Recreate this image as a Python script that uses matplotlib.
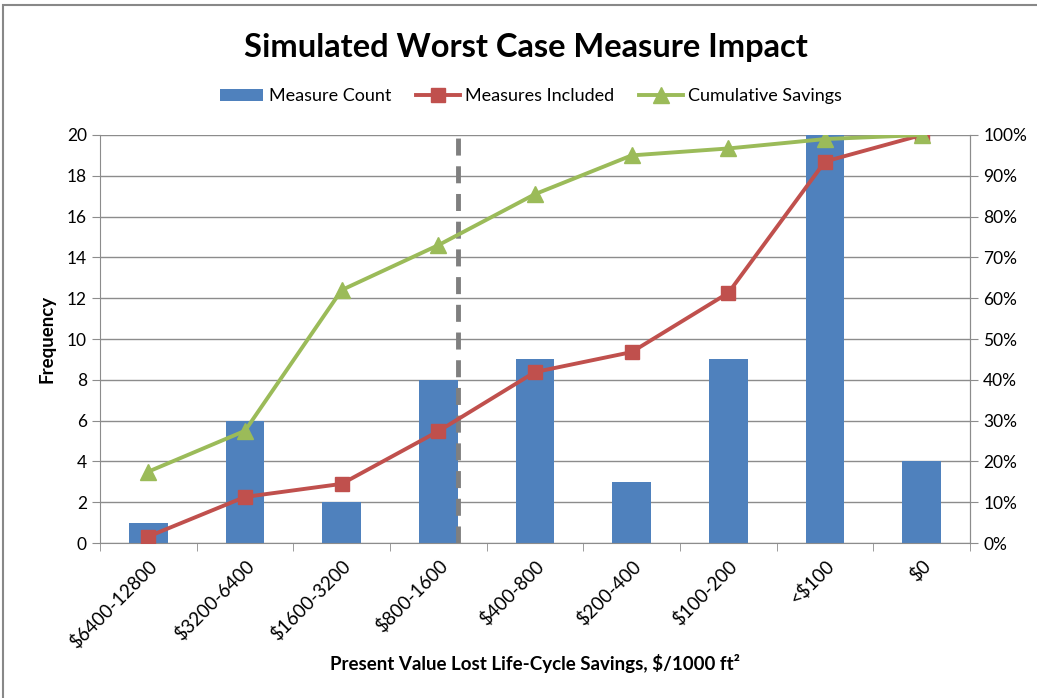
import matplotlib.pyplot as plt
import numpy as np
from matplotlib.patches import Rectangle
from matplotlib.ticker import PercentFormatter

# ── Data ─────────────────────────────────────────────────────────────────────
categories = ["$6400-12800", "$3200-6400", "$1600-3200", "$800-1600",
              "$400-800", "$200-400", "$100-200", "<$100", "$0"]
measure_count = [1, 6, 2, 8, 9, 3, 9, 20, 4]
measures_included = [1.6, 11.3, 14.5, 27.4, 41.9, 46.8, 61.3, 93.5, 100.0]
cumulative_savings = [17.5, 27.5, 62.0, 73.0, 85.5, 95.0, 96.7, 99.0, 100.0]
cutoff_pos = 3.2

BLUE = "#4F81BD"
RED = "#C0504D"
GREEN = "#9BBB59"
GRID = "#8c8c8c"

plt.rcParams["font.family"] = ["Lato", "DejaVu Sans"]
plt.rcParams["text.parse_math"] = False

fig = plt.figure(figsize=(10.37, 6.98), dpi=100)
fig.patches.append(Rectangle((3 / 1037, -0.1), 1.2, 1.1 - 5 / 698,
                             transform=fig.transFigure, fill=False,
                             edgecolor="#888888", lw=1.5))

ax = fig.add_axes([0.0964, 0.222, 0.839, 0.5846])
x = np.arange(len(categories))

ax.bar(x, measure_count, width=0.4, color=BLUE, label="Measure Count", zorder=2)
ax.set_xlim(-0.5, len(categories) - 0.5)
ax.set_ylim(0, 20)
ax.set_yticks(range(0, 21, 2))
ax.yaxis.grid(True, color=GRID, lw=1)
ax.set_axisbelow(True)
ax.axvline(cutoff_pos, color="#7f7f7f", lw=3.5, ls=(0, (3.5, 2.2)), zorder=3)

ax.set_xticks(x)
ax.set_xticklabels(categories, rotation=45, ha="right", rotation_mode="anchor",
                   fontsize=13.5)
ax.tick_params(axis="x", which="major", length=0, pad=10)
ax.set_xticks(np.arange(-0.5, len(categories), 1), minor=True)
ax.tick_params(axis="x", which="minor", length=6, color=GRID)
ax.tick_params(axis="y", length=6, color=GRID, labelsize=12.5)

ax.spines["top"].set_visible(False)
for s in ["left", "bottom", "right"]:
    ax.spines[s].set_color(GRID)

ax.set_ylabel("Frequency", fontsize=13.5, fontweight="bold", labelpad=8)
ax.set_xlabel("Present Value Lost Life-Cycle Savings, $/1000 ft²",
              fontsize=13.5, fontweight="bold", labelpad=2)

ax2 = ax.twinx()
ax2.plot(x, measures_included, color=RED, lw=2.8, marker="s", ms=10,
         label="Measures Included", zorder=4)
ax2.plot(x, cumulative_savings, color=GREEN, lw=2.8, marker="^", ms=11,
         label="Cumulative Savings", zorder=5)
ax2.set_ylim(0, 100)
ax2.set_yticks(range(0, 101, 10))
ax2.yaxis.set_major_formatter(PercentFormatter(decimals=0))
ax2.tick_params(axis="y", length=6, color=GRID, labelsize=12.5)
for s in ["top", "left", "bottom"]:
    ax2.spines[s].set_visible(False)
ax2.spines["right"].set_color(GRID)

fig.suptitle("Simulated Worst Case Measure Impact", fontsize=23.5,
             fontweight="bold", x=0.507, y=0.953)

h1, l1 = ax.get_legend_handles_labels()
h2, l2 = ax2.get_legend_handles_labels()
fig.legend(h1 + h2, l1 + l2, loc="center", bbox_to_anchor=(0.512, 0.862),
           ncol=3, frameon=False, fontsize=13, handlelength=2.4,
           columnspacing=1.4, handletextpad=0.3)

fig.savefig("out.png", dpi=100)
